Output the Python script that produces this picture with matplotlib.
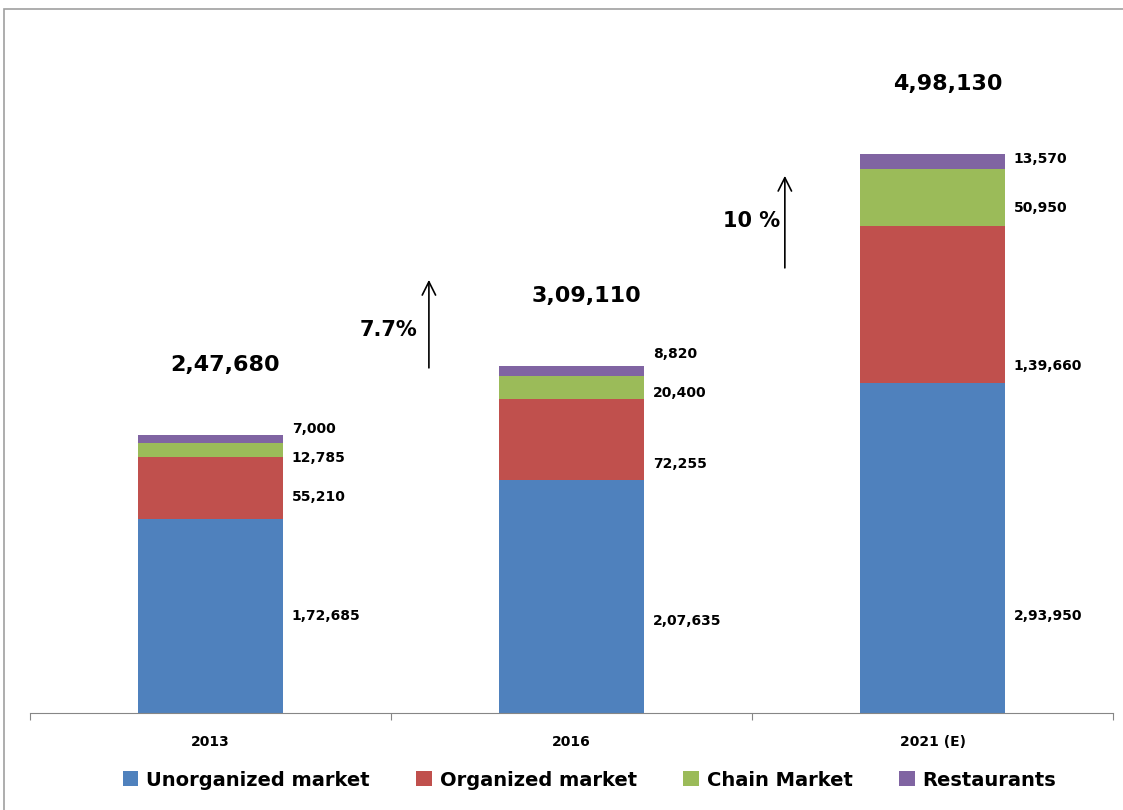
import matplotlib.pyplot as plt
from matplotlib.patches import Rectangle

# data
years = ['2013', '2016', '2021 (E)']
unorganized = [172685, 207635, 293950]
organized = [55210, 72255, 139660]
chain = [12785, 20400, 50950]
restaurants = [7000, 8820, 13570]
series_names = ['Unorganized market', 'Organized market', 'Chain Market', 'Restaurants']
growth = ['7.7%', '10 %']

colors = ['#4F81BD', '#C0504D', '#9BBB59', '#8064A2']

# label nudges in pixels (down positive), per series per year
label_dy = [[0, 25, 68], [9, 25, 61], [8, 6, 10], [-10, -17, -3]]


def indian(v):
    # Indian digit grouping: 2,47,680
    if v < 100000:
        return f"{v:,}"
    return f"{v // 100000},{(v % 100000) // 1000:02d},{v % 1000:03d}"


fig = plt.figure(figsize=(11.23, 8.10), dpi=100)
ax = fig.add_axes([30 / 1123, 1 - 713 / 810, 1083 / 1123, (713 - 16) / 810])

# grey frame (top + left visible)
fig.patches.append(Rectangle((4 / 1123, -0.1), 1.2, 1.1 - 9 / 810,
                             transform=fig.transFigure, fill=False,
                             edgecolor='#a0a0a0', linewidth=1.2))

x = list(range(len(years)))
data = [unorganized, organized, chain, restaurants]
bottoms = [0] * len(years)
bars = []
for i, vals in enumerate(data):
    b = ax.bar(x, vals, width=0.4, bottom=bottoms, color=colors[i],
               edgecolor='none', label=series_names[i])
    bars.append(b)
    for j, v in enumerate(vals):
        ax.annotate(indian(v), xy=(x[j] + 0.2, bottoms[j] + v / 2),
                    xytext=(9, -label_dy[i][j]), textcoords='offset pixels',
                    ha='left', va='center', fontsize=10, fontweight='bold')
    bottoms = [bt + v for bt, v in zip(bottoms, vals)]

totals = bottoms
for j, t in enumerate(totals):
    ax.annotate(indian(t), xy=(x[j], t), xytext=(15, 70), textcoords='offset pixels',
                ha='center', va='center', fontsize=16, fontweight='bold')

# growth arrows
arrow_x = [0.605, 1.591]
arrow_y0 = [307500, 396600]
arrow_y1 = [385900, 478600]
text_pos = [(0.492, 341300), (1.50, 438500)]
for k in range(2):
    ax.annotate('', xy=(arrow_x[k], arrow_y1[k]), xytext=(arrow_x[k], arrow_y0[k]),
                arrowprops=dict(arrowstyle='->', color='black', lw=1.2,
                                mutation_scale=24, shrinkA=0, shrinkB=0))
    ax.text(text_pos[k][0], text_pos[k][1], growth[k], ha='center', va='center',
            fontsize=15, fontweight='bold')

ax.set_xlim(-0.5, 2.5)
ax.set_ylim(0, 621000)
ax.set_yticks([])
for side in ['top', 'right', 'left']:
    ax.spines[side].set_visible(False)
ax.spines['bottom'].set_color('#868686')
ax.set_xticks([-0.5, 0.5, 1.5, 2.5])
ax.set_xticklabels([])
ax.tick_params(axis='x', which='major', length=5, color='#868686')
ax.set_xticks(x, minor=True)
ax.set_xticklabels(years, minor=True, fontsize=10, fontweight='bold')
ax.tick_params(axis='x', which='minor', length=0, pad=16)

fig.legend(handles=bars, labels=series_names, loc='center', ncol=4,
           bbox_to_anchor=(0.525, 1 - 780 / 810), frameon=False,
           prop=dict(size=14, weight='bold'), handlelength=0.8, handleheight=0.8,
           handletextpad=0.4, columnspacing=2.4)

fig.savefig('out.png', dpi=100)
